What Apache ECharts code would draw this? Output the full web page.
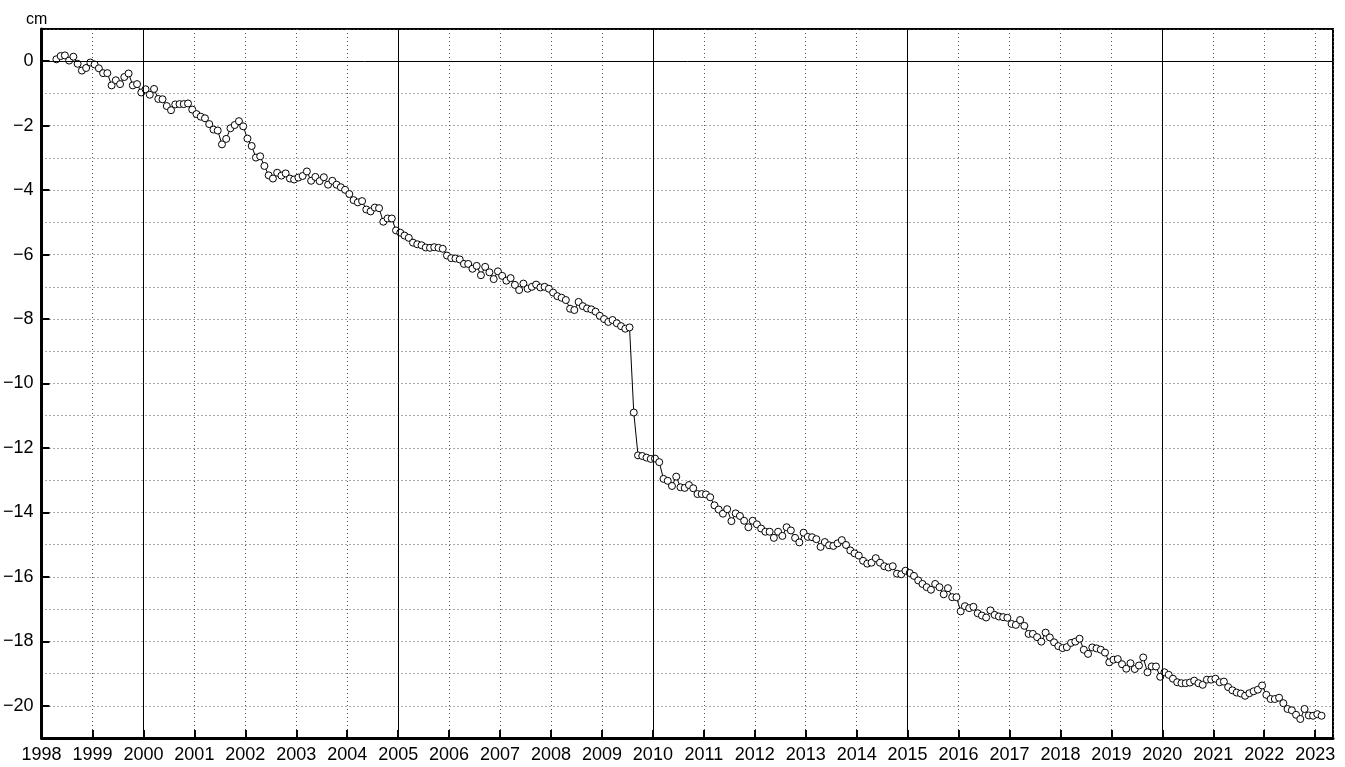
<!DOCTYPE html>
<html><head><meta charset="utf-8">
<script src="https://cdn.jsdelivr.net/npm/echarts@6/dist/echarts.min.js"></script>
<style>html,body{margin:0;padding:0;background:#fff}#c{width:1345px;height:767px}</style>
</head><body><div id="c"></div>
<script>
// monthly series, first value = April 1998
const startYear = 1998;
const startMonth = 4;
const values = [
  0.06, 0.16, 0.18, 0.02, 0.14, -0.08, -0.29, -0.21, -0.04,
  -0.10, -0.22, -0.37, -0.37, -0.75, -0.59, -0.71, -0.49, -0.38, -0.75, -0.71, -0.97,
  -0.87, -1.04, -0.86, -1.17, -1.18, -1.39, -1.52, -1.34, -1.33, -1.33, -1.31, -1.50,
  -1.64, -1.72, -1.77, -1.95, -2.12, -2.15, -2.58, -2.41, -2.08, -1.98, -1.86, -2.02,
  -2.40, -2.63, -2.99, -2.95, -3.25, -3.54, -3.64, -3.46, -3.55, -3.48, -3.64, -3.67,
  -3.61, -3.56, -3.42, -3.71, -3.59, -3.72, -3.60, -3.83, -3.71, -3.83, -3.91, -3.99,
  -4.12, -4.31, -4.38, -4.34, -4.60, -4.66, -4.54, -4.56, -4.98, -4.88, -4.88, -5.25,
  -5.32, -5.41, -5.48, -5.63, -5.68, -5.71, -5.78, -5.79, -5.77, -5.79, -5.82, -6.03,
  -6.11, -6.12, -6.15, -6.29, -6.29, -6.44, -6.35, -6.64, -6.38, -6.55, -6.76, -6.52,
  -6.66, -6.81, -6.73, -6.94, -7.10, -6.90, -7.06, -7.00, -6.93, -7.02, -7.00, -7.06,
  -7.18, -7.29, -7.34, -7.41, -7.68, -7.72, -7.47, -7.60, -7.67, -7.70, -7.77, -7.90,
  -8.00, -8.09, -8.03, -8.13, -8.22, -8.30, -8.26, -10.90, -12.23, -12.25, -12.30, -12.34,
  -12.33, -12.44, -12.96, -13.02, -13.18, -12.89, -13.22, -13.24, -13.15, -13.25, -13.43, -13.43,
  -13.44, -13.53, -13.78, -13.91, -14.04, -13.90, -14.27, -14.03, -14.11, -14.26, -14.46, -14.26,
  -14.37, -14.50, -14.60, -14.60, -14.79, -14.60, -14.73, -14.46, -14.56, -14.79, -14.93, -14.63,
  -14.76, -14.77, -14.83, -15.07, -14.92, -15.02, -15.04, -14.96, -14.86, -15.01, -15.18, -15.27,
  -15.34, -15.50, -15.59, -15.56, -15.42, -15.56, -15.67, -15.71, -15.67, -15.90, -15.92, -15.81,
  -15.88, -15.97, -16.11, -16.22, -16.32, -16.40, -16.22, -16.32, -16.54, -16.35, -16.63, -16.63,
  -17.07, -16.91, -16.97, -16.93, -17.13, -17.20, -17.26, -17.04, -17.18, -17.23, -17.25, -17.27,
  -17.46, -17.49, -17.34, -17.52, -17.77, -17.77, -17.87, -18.01, -17.73, -17.88, -18.03, -18.15,
  -18.21, -18.18, -18.05, -18.01, -17.92, -18.26, -18.39, -18.19, -18.22, -18.26, -18.35, -18.65,
  -18.57, -18.55, -18.71, -18.85, -18.68, -18.86, -18.75, -18.50, -18.96, -18.78, -18.78, -19.10,
  -18.96, -19.04, -19.16, -19.27, -19.30, -19.30, -19.28, -19.22, -19.30, -19.35, -19.19, -19.19,
  -19.16, -19.27, -19.25, -19.42, -19.52, -19.59, -19.62, -19.69, -19.61, -19.55, -19.50, -19.37,
  -19.66, -19.79, -19.79, -19.75, -19.92, -20.10, -20.14, -20.28, -20.41, -20.10, -20.30, -20.31,
  -20.26, -20.31
];
const referenceYears = [2000, 2005, 2010, 2015, 2020];
const xMin = 1998, xMax = 2023.35;
const yMin = -21, yMax = 1;
const unitLabel = 'cm';

const points = values.map((v, i) => [startYear + (startMonth - 1 + i + 0.5) / 12, v]);
const FONT = "'Liberation Sans Narrow','Arial Narrow','Liberation Sans',sans-serif";
const dotted = { color: '#555', width: 1, type: [1, 3] };
const fmtNum = v => (v < 0 ? '\u2212' + (-v) : String(v));

const chart = echarts.init(document.getElementById('c'), null, { renderer: 'canvas' });
chart.setOption({
  animation: false,
  backgroundColor: '#fff',
  title: { text: unitLabel, left: 21, top: 7, textStyle: { fontFamily: FONT, fontSize: 16, fontWeight: 'normal', color: '#000' } },
  grid: { left: 41, right: 12, top: 29, bottom: 29, show: true, borderColor: '#000', borderWidth: 2, backgroundColor: 'transparent' },
  xAxis: {
    type: 'value', min: xMin, max: xMax, interval: 1,
    axisLine: { show: true, onZero: false, lineStyle: { color: '#000', width: 3 } },
    axisTick: { show: true, inside: true, length: 8, lineStyle: { color: '#000', width: 2 } },
    axisLabel: { margin: 8, color: '#000', fontFamily: FONT, fontSize: 18, showMaxLabel: false,
      formatter: v => (Number.isInteger(v) ? String(v) : '') },
    splitLine: { show: true, lineStyle: dotted }
  },
  yAxis: [{
    type: 'value', min: yMin, max: yMax, interval: 1,
    axisLine: { show: true, onZero: false, lineStyle: { color: '#000', width: 3 } },
    axisTick: { show: false },
    axisLabel: { show: false },
    splitLine: { show: true, lineStyle: dotted }
  }, {
    type: 'value', min: yMin, max: yMax, splitNumber: 11, minInterval: 2, maxInterval: 2,
    position: 'left',
    axisLine: { show: false },
    axisTick: { show: true, inside: true, length: 8, lineStyle: { color: '#000', width: 2 } },
    axisLabel: { margin: 8, color: '#000', fontFamily: FONT, fontSize: 18, showMinLabel: false, showMaxLabel: false,
      formatter: v => (Number.isInteger(v) && v % 2 === 0 ? fmtNum(v) : '') },
    splitLine: { show: false }
  }],
  series: [{
    type: 'line',
    data: points,
    yAxisIndex: 0,
    symbol: 'circle', symbolSize: 7, showAllSymbol: true,
    lineStyle: { color: '#000', width: 1 },
    itemStyle: { color: '#fff', borderColor: '#000', borderWidth: 1 },
    silent: true,
    markLine: {
      silent: true, symbol: 'none', label: { show: false },
      lineStyle: { color: '#000', width: 1, type: 'solid' },
      data: [{ yAxis: 0 }].concat(referenceYears.map(y => ({ xAxis: y })))
    },
    z: 3
  }]
});
</script></body></html>
